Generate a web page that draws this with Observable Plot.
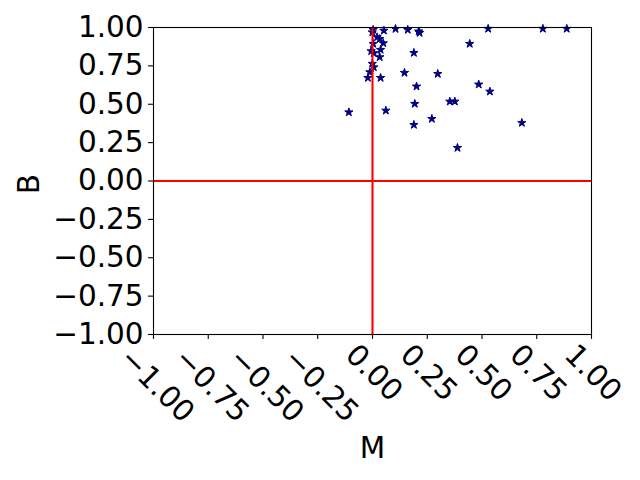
<!DOCTYPE html>
<html>
<head>
<meta charset="utf-8">
<script src="https://cdn.jsdelivr.net/npm/d3@7"></script>
<script src="https://cdn.jsdelivr.net/npm/@observablehq/plot@0.6"></script>
<style>
  html, body { margin: 0; padding: 0; background: white; }
  svg { display: block; }
</style>
</head>
<body>
<div id="chart"></div>
<script>
const mValues = [-0.108, 0.003, 0.052, 0.105, 0.161, 0.211, 0.215,
  -0.001, 0.021, 0.033, 0.049, 0.003, 0.037, -0.006, 0.006, 0.033, -0.001, 0.006, -0.012, -0.021, 0.037,
  0.189, 0.146, 0.298, 0.201, 0.193, 0.353, 0.376, 0.061, 0.271, 0.189, 0.388,
  0.528, 0.778, 0.887, 0.444, 0.485, 0.536, 0.682];
const bValues = [0.448, 0.985, 0.980, 0.991, 0.985, 0.975, 0.965,
  0.969, 0.937, 0.926, 0.898, 0.894, 0.855, 0.846, 0.833, 0.807, 0.764, 0.741, 0.709, 0.672, 0.672,
  0.835, 0.705, 0.698, 0.616, 0.503, 0.518, 0.518, 0.459, 0.405, 0.366, 0.216,
  0.992, 0.992, 0.992, 0.894, 0.629, 0.583, 0.379];
const xTicks = [-1, -0.75, -0.5, -0.25, 0, 0.25, 0.5, 0.75, 1];
const yTicks = [-1, -0.75, -0.5, -0.25, 0, 0.25, 0.5, 0.75, 1];
const xLabel = "M";
const yLabel = "B";

const points = mValues.map((m, i) => ({M: m, B: bValues[i]}));
const fmt = d3.format(".2f");
const negTicks = xTicks.filter(d => d < 0);
const posTicks = xTicks.filter(d => d >= 0);

const chart = Plot.plot({
  width: 640,
  height: 480,
  marginLeft: 153,
  marginRight: 49,
  marginTop: 27,
  marginBottom: 146,
  style: {fontFamily: "DejaVu Sans", fontSize: "29.5px", color: "black", background: "white"},
  x: {domain: [-1, 1], label: null},
  y: {domain: [-1, 1], label: null},
  marks: [
    Plot.dot(points, {x: "M", y: "B", symbol: "star", r: 2.6, fill: "#000080", stroke: "#000080", strokeWidth: 1}),
    Plot.ruleY([0], {stroke: "red", strokeWidth: 2.1}),
    Plot.ruleX([0], {stroke: "red", strokeWidth: 2.1}),
    Plot.frame({stroke: "black", strokeWidth: 1.1}),
    Plot.axisY({ticks: yTicks, tickFormat: fmt, tickSize: 4.9, tickPadding: 5, strokeWidth: 1.1, label: null}),
    Plot.axisX({ticks: xTicks, tickFormat: () => "", tickSize: 4.9, strokeWidth: 1.1, label: null}),
    Plot.text(negTicks, {x: d => d, text: d => fmt(d), frameAnchor: "bottom", rotate: 45, textAnchor: "middle", lineAnchor: "middle", dx: 3.5, dy: 51, fill: "black"}),
    Plot.text(posTicks, {x: d => d, text: d => fmt(d), frameAnchor: "bottom", rotate: 45, textAnchor: "middle", lineAnchor: "middle", dx: 1.5, dy: 38.5, fill: "black"}),
    Plot.text([xLabel], {text: d => d, frameAnchor: "bottom", textAnchor: "middle", lineAnchor: "middle", dy: 114, fill: "black"}),
    Plot.text([yLabel], {text: d => d, frameAnchor: "left", rotate: -90, textAnchor: "middle", lineAnchor: "middle", dx: -123.5, dy: 3, fill: "black"})
  ]
});
document.getElementById("chart").appendChild(chart);
</script>
</body>
</html>
